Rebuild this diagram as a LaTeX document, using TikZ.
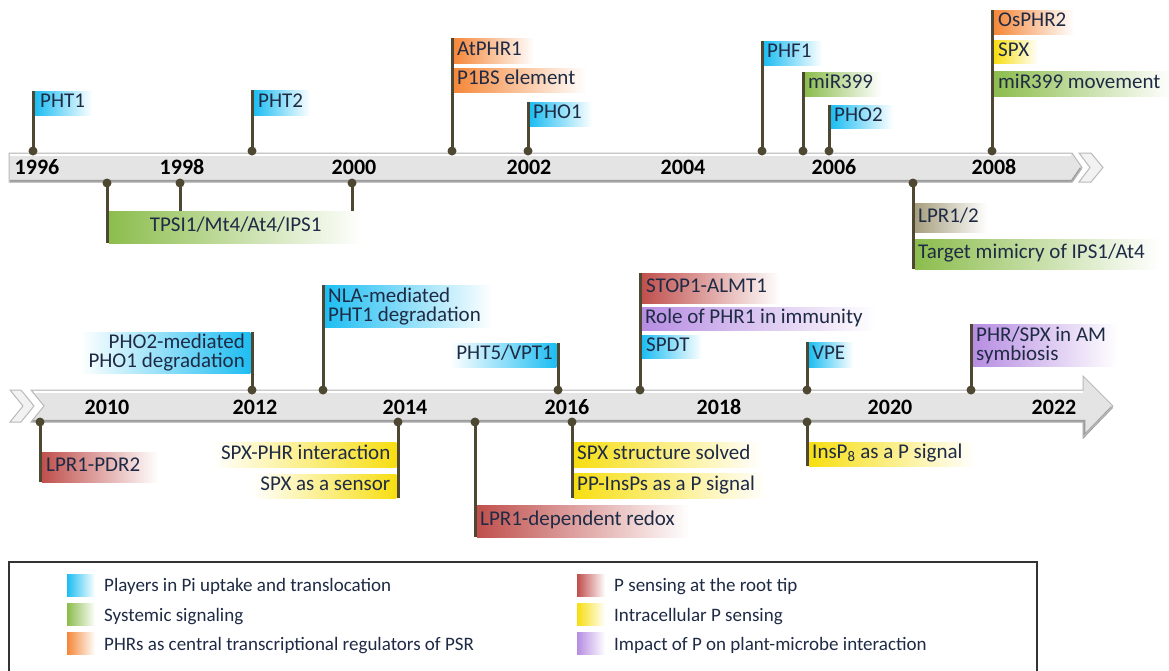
\documentclass[tikz,border=0pt]{standalone}
\usepackage{fontspec}
\setmainfont{Carlito}
\definecolor{txt}{HTML}{1F2B45}
\definecolor{cblue}{HTML}{1EBEF2}
\definecolor{cgreen}{HTML}{8CBD4D}
\definecolor{corange}{HTML}{F5883A}
\definecolor{cred}{HTML}{C0504D}
\definecolor{cyellow}{HTML}{F7DE12}
\definecolor{cpurple}{HTML}{B78DE2}
\definecolor{ctan}{HTML}{A69E7E}
\definecolor{polec}{HTML}{4E4731}
\definecolor{barfill}{HTML}{E4E4E4}
\definecolor{baredge}{HTML}{9C9C9C}
\tikzset{
 flagbox/.style={draw=none, inner sep=0pt, anchor=north west, right color=white},
 flagboxR/.style={draw=none, inner sep=0pt, anchor=north east, left color=white},
 ftext/.style={inner sep=0pt, text=txt, font=\fontsize{21}{18}\selectfont, text height=14pt, text depth=5pt, anchor=west},
 ftextR/.style={ftext, anchor=east},
 ftwo/.style={inner sep=0pt, text=txt, font=\fontsize{21}{19}\selectfont},
 year/.style={inner sep=0pt, font=\bfseries\fontsize{22}{24}\selectfont, text=black},
 polel/.style={draw=polec, line width=3pt},
 dotn/.style={circle, fill=polec, inner sep=0pt, minimum size=9pt},
 legtext/.style={inner sep=0pt, text=txt, font=\fontsize{19}{22}\selectfont, anchor=base west},
 legsw/.style={inner sep=0pt, minimum width=28pt, minimum height=22pt, anchor=north west, right color=white},
 barline/.style={draw=gray!55, line width=1pt},
}
\begin{document}
\begin{tikzpicture}[x=1pt,y=-1pt]
\useasboundingbox (0,0) rectangle (1169,670);
\fill[white] (0,0) rectangle (1169,670);

% ---------- top bar ----------
\fill[barfill] (9,153) -- (1072,153) -- (1082,167.5) -- (1072,182) -- (9,182) -- cycle;
\draw[white, line width=1.5pt] (10,155) -- (1071,155);
\draw[baredge, line width=2.5pt] (10,181) -- (1072,181) -- (1081,168);
\draw[barline] (9,153) -- (1072,153) -- (1082,167.5) -- (1072,182) -- (9,182) -- cycle;
\draw[barline, fill=barfill!50!white] (1079,153) -- (1091,153) -- (1103,167.5) -- (1091,182) -- (1079,182) -- (1090,167.5) -- cycle;

% ---------- bottom bar ----------
\fill[barfill] (31,390) -- (1083,390) -- (1083,376) -- (1113,406) -- (1083,437) -- (1083,422) -- (31,422) -- (44,406) -- cycle;
\draw[white, line width=1.5pt] (34,392) -- (1083,392);
\draw[baredge, line width=2.5pt] (32,421) -- (1084,421) -- (1084,436) -- (1112,407);
\draw[barline] (31,390) -- (1083,390) -- (1083,376) -- (1113,406) -- (1083,437) -- (1083,422) -- (31,422) -- (44,406) -- cycle;
\draw[barline, fill=barfill!50!white] (10,390) -- (21,390) -- (34,406) -- (21,422) -- (10,422) -- (23,406) -- cycle;

% ---------- years ----------
\node[year] (y1996) at (37,167) {1996};
\node[year] (y1998) at (182,167) {1998};
\node[year] (y2000) at (354,167) {2000};
\node[year] (y2002) at (529,167) {2002};
\node[year] (y2004) at (683,167) {2004};
\node[year] (y2006) at (834,167) {2006};
\node[year] (y2008) at (994,167) {2008};
\node[year] (y2010) at (107,407) {2010};
\node[year] (y2012) at (255,407) {2012};
\node[year] (y2014) at (405,407) {2014};
\node[year] (y2016) at (567,407) {2016};
\node[year] (y2018) at (719,407) {2018};
\node[year] (y2020) at (890,407) {2020};
\node[year] (y2022) at (1054,407) {2022};

% ---------- anchor points on the bars ----------
\coordinate (p1) at (33,151);
\coordinate (p2) at (252,151);
\coordinate (p3) at (452,151);
\coordinate (p4) at (528,151);
\coordinate (p5) at (762,151);
\coordinate (p6) at (803,151);
\coordinate (p7) at (829,151);
\coordinate (p8) at (992,151);
\coordinate (p9a) at (107,183);
\coordinate (p9b) at (180,183);
\coordinate (p9c) at (352,183);
\coordinate (p10) at (913,183);
\coordinate (p11) at (252,390);
\coordinate (p12) at (323,390);
\coordinate (p13) at (558,390);
\coordinate (p14) at (640,390);
\coordinate (p15) at (807,390);
\coordinate (p16) at (971,390);
\coordinate (p17) at (40,422);
\coordinate (p18) at (398,422);
\coordinate (p19) at (475,422);
\coordinate (p20) at (572,422);
\coordinate (p21) at (807,422);

% ---------- flags: top, above ----------
\node[flagbox, left color=cblue, minimum width=57pt, minimum height=24pt] (f1) at (35,91) {};
\node[ftext] (t1) at ([xshift=5pt]f1.west) {PHT1};
\node[flagbox, left color=cblue, minimum width=56pt, minimum height=25pt] (f2) at (254,90) {};
\node[ftext] (t2) at ([xshift=4pt]f2.west) {PHT2};
\node[flagbox, left color=corange, minimum width=80pt, minimum height=25pt] (f3a) at (454,38) {};
\node[ftext] (t3a) at ([xshift=3pt]f3a.west) {AtPHR1};
\node[flagbox, left color=corange, minimum width=132pt, minimum height=24pt] (f3b) at (454,68) {};
\node[ftext] (t3b) at ([xshift=3pt]f3b.west) {P1BS element};
\node[flagbox, left color=cblue, minimum width=62pt, minimum height=24pt] (f4) at (530,102) {};
\node[ftext] (t4) at ([xshift=3pt]f4.west) {PHO1};
\node[flagbox, left color=cblue, minimum width=58pt, minimum height=24pt] (f5) at (764,41) {};
\node[ftext] (t5) at ([xshift=3pt]f5.west) {PHF1};
\node[flagbox, left color=cgreen, minimum width=76pt, minimum height=24pt] (f6) at (805,72) {};
\node[ftext] (t6) at ([xshift=3pt]f6.west) {miR399};
\node[flagbox, left color=cblue, minimum width=62pt, minimum height=23pt] (f7) at (831,105) {};
\node[ftext] (t7) at ([xshift=3pt]f7.west) {PHO2};
\node[flagbox, left color=corange, minimum width=80pt, minimum height=24pt] (f8a) at (994,10) {};
\node[ftext] (t8a) at ([xshift=4pt]f8a.west) {OsPHR2};
\node[flagbox, left color=cyellow, minimum width=44pt, minimum height=23pt] (f8b) at (994,40) {};
\node[ftext] (t8b) at ([xshift=4pt]f8b.west) {SPX};
\node[flagbox, left color=cgreen, minimum width=176pt, minimum height=25pt] (f8c) at (994,71) {};
\node[ftext] (t8c) at ([xshift=4pt]f8c.west) {miR399 movement};

% ---------- flags: top, below ----------
\node[flagbox, left color=cgreen, minimum width=253pt, minimum height=32pt] (f9) at (109,211) {};
\node[ftext, anchor=center] (t9) at (f9.center) {TPSI1/Mt4/At4/IPS1};
\node[flagbox, left color=ctan, minimum width=72pt, minimum height=29pt] (f10a) at (915,203) {};
\node[ftext] (t10a) at ([xshift=3pt]f10a.west) {LPR1/2};
\node[flagbox, left color=cgreen, minimum width=244pt, minimum height=30pt] (f10b) at (915,239) {};
\node[ftext] (t10b) at ([xshift=3pt]f10b.west) {Target mimicry of IPS1/At4};

% ---------- flags: bottom, above ----------
\node[flagboxR, right color=cblue, minimum width=170pt, minimum height=41pt] (f11) at (250.5,332) {};
\node[ftwo, anchor=east, align=right] (t11) at ([xshift=-5.5pt]f11.east) {PHO2-mediated\\PHO1 degradation};
\node[flagbox, left color=cblue, minimum width=167pt, minimum height=42pt] (f12) at (325,285) {};
\node[ftwo, anchor=west, align=left] (t12) at ([xshift=3pt]f12.west) {NLA-mediated\\PHT1 degradation};
\node[flagboxR, right color=cblue, minimum width=106pt, minimum height=24pt] (f13) at (556.5,343) {};
\node[ftextR] (t13) at ([xshift=-3.5pt]f13.east) {PHT5/VPT1};
\node[flagbox, left color=cred, minimum width=138pt, minimum height=30pt] (f14a) at (642,273) {};
\node[ftext] (t14a) at ([xshift=4pt]f14a.west) {STOP1-ALMT1};
\node[flagbox, left color=cpurple, minimum width=233pt, minimum height=23pt] (f14b) at (642,307) {};
\node[ftext] (t14b) at ([xshift=3pt]f14b.west) {Role of PHR1 in immunity};
\node[flagbox, left color=cblue, minimum width=60pt, minimum height=23pt] (f14c) at (642,335) {};
\node[ftext] (t14c) at ([xshift=4pt]f14c.west) {SPDT};
\node[flagbox, left color=cblue, minimum width=44pt, minimum height=25pt] (f15) at (809,342) {};
\node[ftext] (t15) at ([xshift=3pt]f15.west) {VPE};
\node[flagbox, left color=cpurple, minimum width=145pt, minimum height=42pt] (f16) at (973,324) {};
\node[ftwo, anchor=west, align=left] (t16) at ([xshift=3pt]f16.west) {PHR/SPX in AM\\symbiosis};

% ---------- flags: bottom, below ----------
\node[flagbox, left color=cred, minimum width=116pt, minimum height=30pt] (f17) at (42,452) {};
\node[ftext] (t17) at ([xshift=4pt]f17.west) {LPR1-PDR2};
\node[flagboxR, right color=cyellow, minimum width=184pt, minimum height=25pt] (f18a) at (396.5,442) {};
\node[ftextR] (t18a) at ([xshift=-6pt]f18a.east) {SPX-PHR interaction};
\node[flagboxR, right color=cyellow, minimum width=144pt, minimum height=24pt] (f18b) at (396.5,474) {};
\node[ftextR] (t18b) at ([xshift=-6pt]f18b.east) {SPX as a sensor};
\node[flagbox, left color=cred, minimum width=212pt, minimum height=32pt] (f19) at (477,505) {};
\node[ftext] (t19) at ([xshift=3pt]f19.west) {LPR1-dependent redox};
\node[flagbox, left color=cyellow, minimum width=188pt, minimum height=25pt] (f20a) at (574,442) {};
\node[ftext] (t20a) at ([xshift=3pt]f20a.west) {SPX structure solved};
\node[flagbox, left color=cyellow, minimum width=192pt, minimum height=25pt] (f20b) at (574,473) {};
\node[ftext] (t20b) at ([xshift=3pt]f20b.west) {PP-InsPs as a P signal};
\node[flagbox, left color=cyellow, minimum width=166pt, minimum height=24pt] (f21) at (809,442) {};
\node[ftext] (t21) at ([xshift=3pt]f21.west) {InsP\textsubscript{8} as a P signal};

% ---------- poles ----------
\draw[polel] (p1) -- (p1 |- f1.north);
\draw[polel] (p2) -- (p2 |- f2.north);
\draw[polel] (p3) -- (p3 |- f3a.north);
\draw[polel] (p4) -- (p4 |- f4.north);
\draw[polel] (p5) -- (p5 |- f5.north);
\draw[polel] (p6) -- (p6 |- f6.north);
\draw[polel] (p7) -- (p7 |- f7.north);
\draw[polel] (p8) -- (p8 |- f8a.north);
\draw[polel] (p9a) -- (p9a |- f9.south);
\draw[polel] (p9b) -- (p9b |- f9.north);
\draw[polel] (p9c) -- (p9c |- f9.north);
\draw[polel] (p10) -- (p10 |- f10b.south);
\draw[polel] (p11) -- (p11 |- f11.north);
\draw[polel] (p12) -- (p12 |- f12.north);
\draw[polel] (p13) -- (p13 |- f13.north);
\draw[polel] (p14) -- (p14 |- f14a.north);
\draw[polel] (p15) -- (p15 |- f15.north);
\draw[polel] (p16) -- (p16 |- f16.north);
\draw[polel] (p17) -- (p17 |- f17.south);
\draw[polel] (p18) -- (p18 |- f18b.south);
\draw[polel] (p19) -- (p19 |- f19.south);
\draw[polel] (p20) -- (p20 |- f20b.south);
\draw[polel] (p21) -- (p21 |- f21.south);

% ---------- dots ----------
\foreach \p in {p1,p2,p3,p4,p5,p6,p7,p8,p9a,p9b,p9c,p10,p11,p12,p13,p14,p15,p16,p17,p18,p19,p20,p21}
  \node[dotn] (d\p) at (\p) {};

% ---------- legend ----------
\draw[draw=gray!40!black, line width=1.3pt] (9,562) rectangle (1037,690);
\node[legsw, left color=cblue] (l1) at (67,574) {};
\node[legtext] (l1t) at (104,591) {Players in Pi uptake and translocation};
\node[legsw, left color=cgreen] (l2) at (67,603) {};
\node[legtext] (l2t) at (104,621.5) {Systemic signaling};
\node[legsw, left color=corange] (l3) at (67,632) {};
\node[legtext] (l3t) at (104,650) {PHRs as central transcriptional regulators of PSR};
\node[legsw, left color=cred] (l4) at (577,574) {};
\node[legtext] (l4t) at (614,591) {P sensing at the root tip};
\node[legsw, left color=cyellow] (l5) at (577,603) {};
\node[legtext] (l5t) at (614,621.5) {Intracellular P sensing};
\node[legsw, left color=cpurple] (l6) at (577,632) {};
\node[legtext] (l6t) at (614,650) {Impact of P on plant-microbe interaction};
\end{tikzpicture}
\end{document}
